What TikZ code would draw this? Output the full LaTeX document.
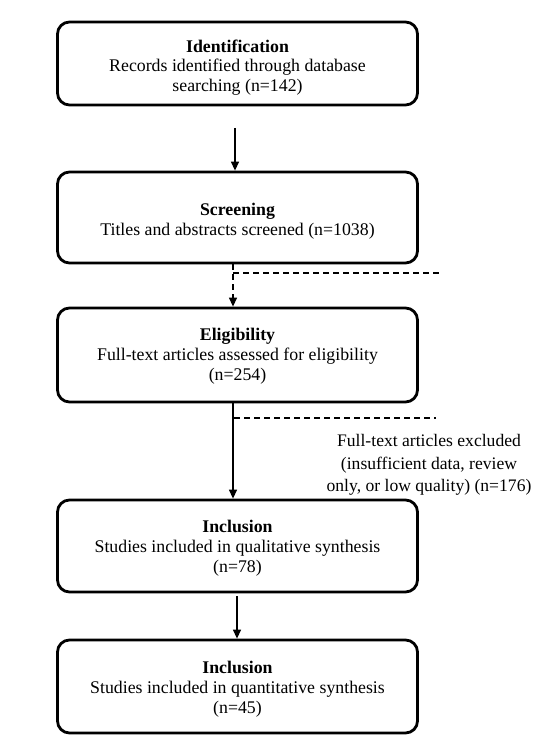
\documentclass[tikz,border=0pt]{standalone}
\usepackage{fontspec}
\setmainfont{Liberation Serif}
\usetikzlibrary{arrows.meta}
\begin{document}
\begin{tikzpicture}[x=1pt,y=-1pt,
  stage/.style={draw=black,line width=2.8pt,rounded corners=12pt,minimum width=360pt,inner sep=0pt},
  stagetext/.style={align=center,inner sep=0pt,font=\fontsize{17.8}{19.8}\selectfont},
  conn/.style={line width=1.3pt,-{Triangle[length=9pt,width=8pt]}},
  dconn/.style={line width=1.3pt,dash pattern=on 6pt off 4pt,-{Triangle[length=9pt,width=8pt]}},
  dline/.style={line width=1.3pt,dash pattern=on 6pt off 4pt},
  note/.style={align=center,font=\fontsize{17.6}{22.5}\selectfont}]
\useasboundingbox (0,0) rectangle (550,743);
\node[stage,minimum height=83pt] (b1) at (237.5,63.5) {};
\node[stage,minimum height=91pt] (b2) at (237.5,217.5) {};
\node[stage,minimum height=94pt] (b3) at (237.5,355) {};
\node[stage,minimum height=92pt] (b4) at (237.5,546) {};
\node[stage,minimum height=93pt] (b5) at (237.5,686.5) {};
\node[stagetext] (t1) at (237.5,67.5) {\textbf{Identification}\\Records identified through database\\searching (n=142)};
\node[stagetext] (t2) at (237.5,221) {\textbf{Screening}\\Titles and abstracts screened (n=1038)};
\node[stagetext] (t3) at (237.5,356) {\textbf{Eligibility}\\Full-text articles assessed for eligibility\\(n=254)};
\node[stagetext] (t4) at (237.5,548) {\textbf{Inclusion}\\Studies included in qualitative synthesis\\(n=78)};
\node[stagetext] (t5) at (237.5,689) {\textbf{Inclusion}\\Studies included in quantitative synthesis\\(n=45)};
\node[note] (ex) at (429,465) {Full-text articles excluded\\(insufficient data, review\\only, or low quality) (n=176)};
\coordinate (a1s) at (235,128);
\coordinate (d1s) at (233,273);
\coordinate (d1e) at (440,273);
\coordinate (d2s) at (234,418);
\coordinate (d2e) at (436,418);
\coordinate (a4s) at (237,596);
\draw[conn] (a1s) -- (a1s |- b2.north);
\draw[dconn] (b2.south -| d1s) -- (b3.north -| d1s);
\draw[dline] (d1s) -- (d1e);
\draw[conn] (b3.south -| d1s) -- (b4.north -| d1s);
\draw[dline] (d2s) -- (d2e);
\draw[conn] (a4s) -- (a4s |- b5.north);
\end{tikzpicture}
\end{document}
